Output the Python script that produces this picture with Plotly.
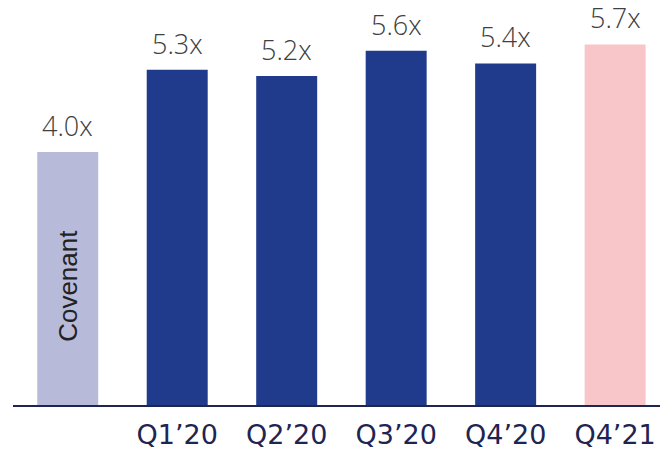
import plotly.graph_objects as go

# Leverage multiples by period
categories = ["Covenant", "Q1\u201920", "Q2\u201920", "Q3\u201920", "Q4\u201920", "Q4\u201921"]
tick_labels = ["", "Q1\u201920", "Q2\u201920", "Q3\u201920", "Q4\u201920", "Q4\u201921"]
values = [4.0, 5.3, 5.2, 5.6, 5.4, 5.7]
bar_colors = ["#b7bbd9", "#203a8c", "#203a8c", "#203a8c", "#203a8c", "#f8c6c9"]

positions = list(range(len(categories)))

fig = go.Figure()
fig.add_trace(go.Bar(
    x=positions,
    y=values,
    width=0.557,
    marker=dict(color=bar_colors, line=dict(width=0)),
    hoverinfo="skip",
))

# value labels above each bar
for xi, v in zip(positions, values):
    fig.add_annotation(
        x=xi, y=v, text=f"{v:.1f}x", showarrow=False,
        yanchor="bottom", yshift=6,
        font=dict(family="Open Sans", size=27, color="#404040", weight=300),
    )

# rotated label inside the covenant bar
fig.add_annotation(
    x=0, y=1.88, text=categories[0], showarrow=False, textangle=-90,
    font=dict(family="Liberation Sans", size=26, color="#222222"),
)

fig.update_layout(
    width=660, height=452,
    margin=dict(l=13, r=0, t=0, b=47),
    paper_bgcolor="white", plot_bgcolor="white",
    showlegend=False,
    xaxis=dict(
        range=[-0.5, 5.41],
        tickmode="array", tickvals=positions, ticktext=tick_labels,
        showgrid=False, zeroline=False,
        showline=True, linecolor="#1f2552", linewidth=2,
        ticks="", ticklen=0, ticklabelstandoff=5,
        tickfont=dict(family="DejaVu Sans", size=27, color="#1f2552"),
    ),
    yaxis=dict(
        range=[0, 6.403], visible=False, showgrid=False, zeroline=False,
    ),
)

fig.write_html("out.html")
